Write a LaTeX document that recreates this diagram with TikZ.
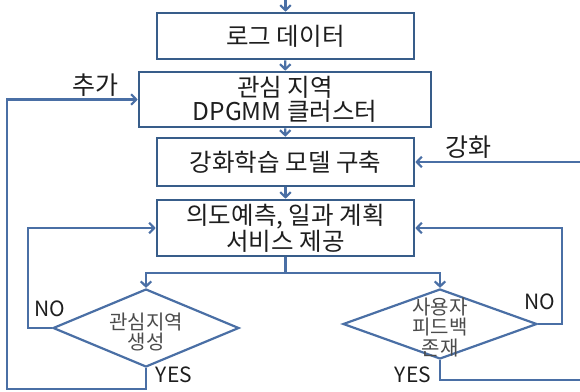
\documentclass[tikz,border=0pt]{standalone}
\usepackage{fontspec}
\setmainfont{Noto Sans CJK KR}
\usetikzlibrary{arrows.meta,shapes.geometric}
\definecolor{boxline}{HTML}{385D8A}
\definecolor{conline}{HTML}{4A6FA5}
\definecolor{txt}{HTML}{1E1E1E}
\begin{document}
\begin{tikzpicture}[x=1pt,y=-1pt,
 box/.style={draw=boxline,line width=2.6pt,minimum width=257pt,minimum height=46pt,inner sep=0pt,align=center,text=txt,font=\fontsize{24.5}{24.5}\selectfont},
 dia/.style={draw=conline,line width=2.2pt,diamond,inner sep=0pt},
 con/.style={draw=conline,line width=2.2pt},
 arr/.style={con,-{Straight Barb[length=5pt,width=10.5pt]}},
 lbl/.style={text=txt,font=\fontsize{21}{24}\selectfont,inner sep=0pt},
 klbl/.style={text=txt,font=\fontsize{25}{25}\selectfont,inner sep=0pt},
 dtxt/.style={text=txt!80,font=\fontsize{20}{20.5}\selectfont,align=center,inner sep=0pt}]
\useasboundingbox (0,0) rectangle (580,391);
\node[box] (b1) at (285.5,36) {로그 데이터};
\node[box,minimum width=292pt,minimum height=55pt] (b2) at (285,99.5) {관심 지역\\DPGMM 클러스터};
\node[box,minimum height=48pt] (b3) at (285.5,162) {강화학습 모델 구축};
\node[box,minimum height=56pt] (b4) at (285.5,228) {의도예측, 일과 계획\\서비스 제공};
\node[dia,minimum width=186pt,minimum height=78pt] (dl) at (146,328) {};
\node[dia,minimum width=194pt,minimum height=70pt] (dr) at (440,324) {};
\node[dtxt] (dlt) at (146,332) {관심지역\\생성};
\node[dtxt] (drt) at (440,327.5) {사용자\\피드백\\존재};
\coordinate (top) at (285.5,0);
\coordinate (split) at (285.5,273);
\coordinate (nol) at (28,328);
\coordinate (outl) at (7,389);
\coordinate (nor) at (562,324);
\coordinate (yr) at (582,380);
\coordinate (rin) at (582,162);
\draw[arr] (top) -- (b1.north);
\draw[arr] (b1) -- (b2);
\draw[arr] (b2) -- (b3);
\draw[arr] (b3) -- (b4);
\draw[con] (b4.south) -- (split);
\draw[arr] (split) -| (dl.north);
\draw[arr] (split) -| (dr.north);
\draw[arr] (dl.west) -- (nol) |- (b4.west);
\draw[arr] (dl.south) |- (outl) |- (b2.west);
\draw[arr] (dr.east) -- (nor) |- (b4.east);
\draw[con] (dr.south) |- (yr);
\draw[arr] (rin) -- (b3.east);
\node[klbl] (add) at (95,85) {추가};
\node[klbl] (reinf) at (468,147) {강화};
\node[lbl] (nl) at (50,309) {NO};
\node[lbl] (yl) at (174,375) {YES};
\node[lbl] (nr) at (540,302) {NO};
\node[lbl] (yrl) at (413,375) {YES};
\end{tikzpicture}
\end{document}
